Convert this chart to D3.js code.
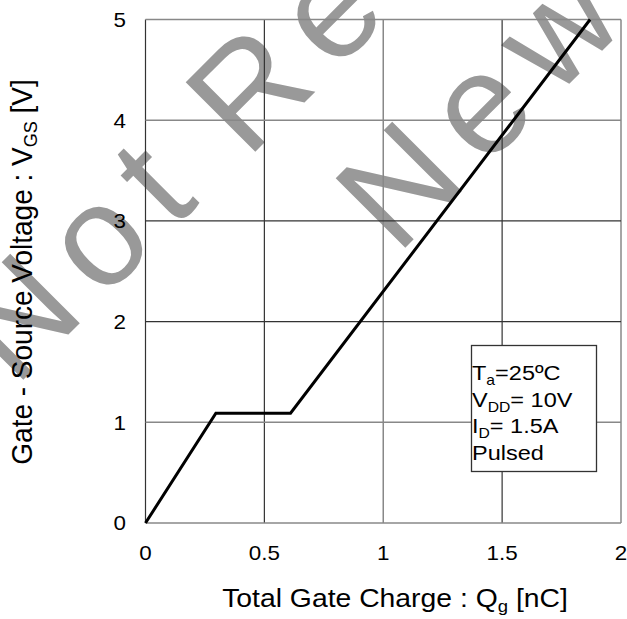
<!DOCTYPE html>
<html><head><meta charset="utf-8">
<script src="https://cdn.jsdelivr.net/npm/d3@7"></script>
<style>body{margin:0;background:#fff;} text{font-family:"Liberation Sans",Arial,sans-serif;}</style>
</head><body>
<svg id="c" width="627" height="619"></svg>
<script>
// data
const qg = [0, 0.296, 0.61, 1.87];          // Total gate charge [nC]
const vgs = [0, 1.09, 1.09, 5.0];            // Gate-source voltage [V]
const xTicks = [0, 0.5, 1, 1.5, 2];
const yTicks = [0, 1, 2, 3, 4, 5];
const xTickLabels = ["0", "0.5", "1", "1.5", "2"];
const yTickLabels = ["0", "1", "2", "3", "4", "5"];
const conditions = [
  {main: "T", sub: "a", rest: "=25ºC"},
  {main: "V", sub: "DD", rest: "= 10V"},
  {main: "I", sub: "D", rest: "= 1.5A"},
  {main: "Pulsed", sub: "", rest: ""}
];
const watermarkWords = ["Not", "Recommended", "New"];

const SX = 1.12; // horizontal stretch of the reference's lettering
const svg = d3.select("#c");
const m = {l: 145.5, r: 621, t: 19.5, b: 523};
const x = d3.scaleLinear().domain([0, 2]).range([m.l, m.r]);
const y = d3.scaleLinear().domain([0, 5]).range([m.b, m.t]);

// watermark
const wmPos = [[15, 388], [247, 160], [397, 256]];
svg.append("g").attr("fill", "#999").attr("font-size", 143).attr("letter-spacing", 20)
  .selectAll("text").data(watermarkWords).join("text")
  .attr("transform", (d, i) => `translate(${wmPos[i][0]},${wmPos[i][1]}) rotate(-45)`)
  .text(d => d);

// grid
const darkX = new Set([0, 0.5, 1.5]);
const darkY = new Set([2, 3]);
svg.append("g").selectAll("line").data(xTicks).join("line")
  .attr("x1", d => x(d)).attr("x2", d => x(d)).attr("y1", y(0)).attr("y2", y(5))
  .attr("stroke", d => darkX.has(d) ? "#333" : "#888").attr("stroke-width", d => darkX.has(d) ? 1.2 : 1.5);
svg.append("g").selectAll("line").data(yTicks).join("line")
  .attr("x1", x(0)).attr("x2", x(2)).attr("y1", d => y(d)).attr("y2", d => y(d))
  .attr("stroke", d => darkY.has(d) ? "#333" : "#888").attr("stroke-width", d => darkY.has(d) ? 1.2 : 1.5);

// tick labels
svg.append("g").selectAll("text").data(xTicks).join("text")
  .attr("transform", d => `translate(${x(d)},560) scale(${SX},1)`)
  .attr("text-anchor", "middle").attr("font-size", 20)
  .text((d, i) => xTickLabels[i]);
svg.append("g").selectAll("text").data(yTicks).join("text")
  .attr("transform", d => `translate(126,${y(d) + 7.3}) scale(${SX},1)`)
  .attr("text-anchor", "end").attr("font-size", 20)
  .text((d, i) => yTickLabels[i]);

// axis titles
const xt = svg.append("text").attr("transform", `translate(395,607) scale(1.09,1)`)
  .attr("text-anchor", "middle").attr("font-size", 26);
xt.append("tspan").text("Total Gate Charge : Q");
xt.append("tspan").attr("font-size", 17).attr("dy", 5).text("g");
xt.append("tspan").attr("dy", -5).text(" [nC]");
const yt = svg.append("text").attr("transform", `translate(32,272) scale(1.06,1) rotate(-90)`)
  .attr("text-anchor", "middle").attr("font-size", 28);
yt.append("tspan").text("Gate - Source Voltage : V");
yt.append("tspan").attr("font-size", 18).attr("dy", 5).text("GS");
yt.append("tspan").attr("dy", -5).text(" [V]");

// curve
const line = d3.line().x(d => x(d[0])).y(d => y(d[1]));
svg.append("path").datum(qg.map((q, i) => [q, vgs[i]]))
  .attr("d", line).attr("fill", "none").attr("stroke", "#000").attr("stroke-width", 3).attr("stroke-linejoin", "miter");

// condition box
svg.append("rect").attr("x", 471.5).attr("y", 345.5).attr("width", 125).attr("height", 126)
  .attr("fill", "#fff").attr("stroke", "#333").attr("stroke-width", 1.3);
const cg = svg.append("g").attr("font-size", 21);
conditions.forEach((c, i) => {
  const t = cg.append("text").attr("transform", `translate(472,${380 + i * 26.7}) scale(${SX},1)`);
  t.append("tspan").text(c.main);
  if (c.sub) {
    t.append("tspan").attr("font-size", 14).attr("dy", 5).text(c.sub);
    t.append("tspan").attr("dy", -5).text(c.rest);
  }
});
</script>
</body></html>
